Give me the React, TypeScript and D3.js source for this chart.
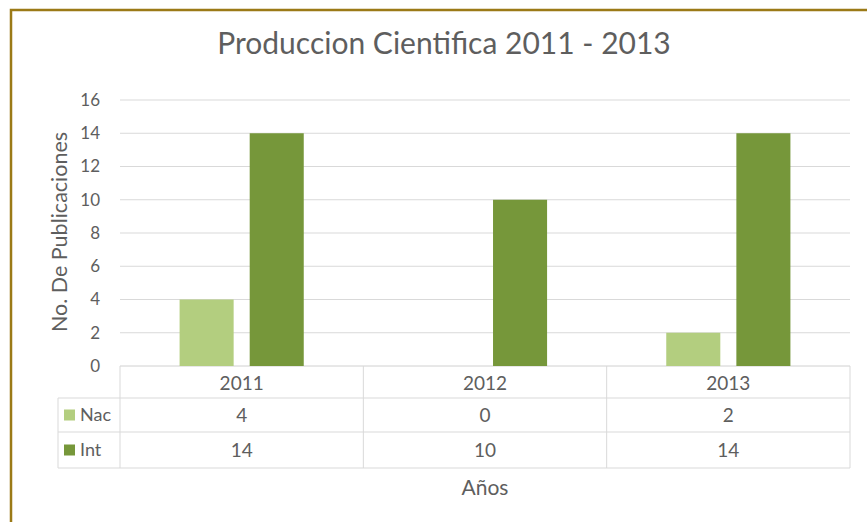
import React from "react";
import * as d3 from "d3";

const categories = ["2011", "2012", "2013"];
const seriesNames = ["Nac", "Int"];
const nacValues = [4, 0, 2];
const intValues = [14, 10, 14];
const yTickValues = [0, 2, 4, 6, 8, 10, 12, 14, 16];
const titleText = "Produccion Cientifica 2011 - 2013";
const yAxisTitle = "No. De Publicaciones";
const xAxisTitle = "Años";

const W = 867;
const H = 522;
const FONT = "Lato, 'Open Sans', sans-serif";
const TEXT = "#5e5e5e";
const GRID = "#d9d9d9";
const COLORS: Record<string, string> = { Nac: "#b3ce7f", Int: "#76973a" };

export default function App() {
  const plotLeft = 120;
  const plotRight = 850;
  const plotTop = 100;
  const plotBottom = 366;

  const x0 = d3.scaleBand<string>().domain(categories).range([plotLeft, plotRight]).paddingInner(0).paddingOuter(0);
  const x1 = d3
    .scaleBand<string>()
    .domain(seriesNames)
    .range([0, x0.bandwidth()])
    .paddingInner(0.229)
    .paddingOuter(0.85);
  const y = d3.scaleLinear().domain([0, 16]).range([plotBottom, plotTop]);

  const seriesData: Record<string, number[]> = { Nac: nacValues, Int: intValues };

  const row0 = plotBottom; // axis line
  const row1 = 398;
  const row2 = 432;
  const row3 = 468;
  const legendLeft = 58;

  return (
    <svg
      width={W}
      height={H}
      style={{ position: "absolute", left: 0, top: 0, background: "#fff" }}
      fontFamily={FONT}
    >
      <rect x={0} y={0} width={W} height={H} fill="#ffffff" />
      {/* chart border */}
      <rect x={11} y={10} width={W + 20} height={H + 20} fill="none" stroke="#9b7a17" strokeWidth={2.5} />

      {/* title */}
      <text x={444} y={54} textAnchor="middle" fontSize={30} fill={TEXT}>
        {titleText}
      </text>

      {/* gridlines */}
      {yTickValues.map((t) => (
        <line
          key={"g" + t}
          x1={plotLeft}
          x2={plotRight}
          y1={y(t)}
          y2={y(t)}
          stroke={t === 0 ? "#d0d0d0" : GRID}
          strokeWidth={1}
        />
      ))}

      {/* y tick labels */}
      {yTickValues.map((t) => (
        <text
          key={"t" + t}
          x={100}
          y={y(t)}
          dy="0.35em"
          textAnchor="end"
          fontSize={17}
          fill={TEXT}
        >
          {t}
        </text>
      ))}

      {/* y axis title */}
      <text
        transform={`translate(${59},${232}) rotate(-90)`}
        textAnchor="middle"
        dy="0.35em"
        fontSize={21.5}
        fill={TEXT}
      >
        {yAxisTitle}
      </text>

      {/* bars */}
      {categories.map((c, i) => (
        <g key={c} transform={`translate(${x0(c)},0)`}>
          {seriesNames.map((s) => {
            const v = seriesData[s][i];
            return (
              <rect
                key={s}
                x={x1(s)}
                y={y(v)}
                width={x1.bandwidth()}
                height={plotBottom - y(v)}
                fill={COLORS[s]}
              />
            );
          })}
        </g>
      ))}

      {/* data table lines */}
      <line x1={legendLeft} x2={plotRight} y1={row1} y2={row1} stroke={GRID} />
      <line x1={legendLeft} x2={plotRight} y1={row2} y2={row2} stroke={GRID} />
      <line x1={legendLeft} x2={plotRight} y1={row3} y2={row3} stroke={GRID} />
      <line x1={legendLeft} x2={legendLeft} y1={row1} y2={row3} stroke={GRID} />
      {[...categories.map((c) => x0(c) as number), plotRight].map((xv, i) => (
        <line key={"v" + i} x1={xv} x2={xv} y1={row0} y2={row3} stroke={GRID} />
      ))}

      {/* category labels */}
      {categories.map((c) => (
        <text
          key={"c" + c}
          x={(x0(c) as number) + x0.bandwidth() / 2}
          y={(row0 + row1) / 2 + 1}
          dy="0.35em"
          textAnchor="middle"
          fontSize={19}
          fill={TEXT}
        >
          {c}
        </text>
      ))}

      {/* table rows */}
      {seriesNames.map((s, r) => {
        const top = r === 0 ? row1 : row2;
        const bot = r === 0 ? row2 : row3;
        const cy = (top + bot) / 2;
        return (
          <g key={"row" + s}>
            <rect x={64} y={cy - 5.5} width={11} height={11} fill={COLORS[s]} />
            <text x={80} y={cy} dy="0.35em" fontSize={18} fill={TEXT}>
              {s}
            </text>
            {categories.map((c, i) => (
              <text
                key={s + c}
                x={(x0(c) as number) + x0.bandwidth() / 2}
                y={cy}
                dy="0.35em"
                textAnchor="middle"
                fontSize={19}
                fill={TEXT}
              >
                {seriesData[s][i]}
              </text>
            ))}
          </g>
        );
      })}

      {/* x axis title */}
      <text x={485} y={488} dy="0.35em" textAnchor="middle" fontSize={21} fill={TEXT}>
        {xAxisTitle}
      </text>
    </svg>
  );
}
